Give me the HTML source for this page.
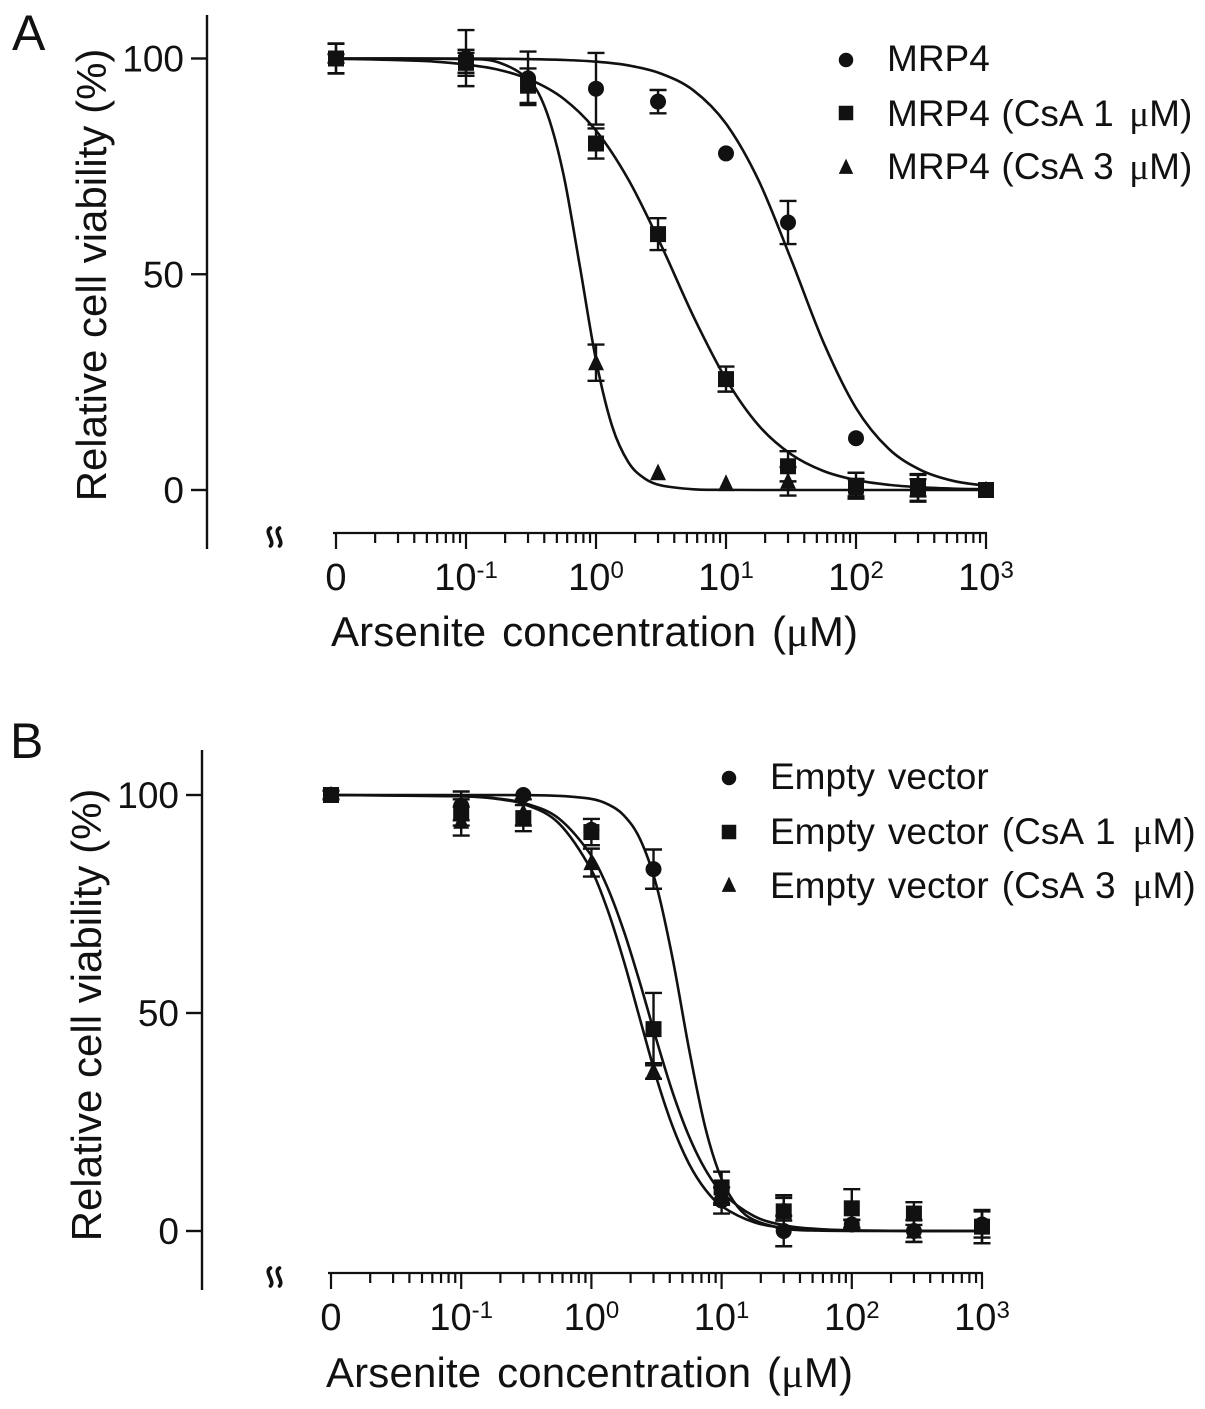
<!DOCTYPE html>
<html>
<head>
<meta charset="utf-8">
<title>Arsenite dose-response curves</title>
<style>
html,body{margin:0;padding:0;background:#fff;}
svg{display:block;}
text{font-family:"Liberation Sans",Arial,sans-serif;fill:#111;}
</style>
</head>
<body>
<svg id="figure" width="1205" height="1409" viewBox="0 0 1205 1409" xmlns="http://www.w3.org/2000/svg"></svg>
<script>
// Shared data
const concentrations = [0, 0.1, 0.3, 1, 3, 10, 30, 100, 300, 1000];
const yTickValues = [0, 50, 100];
const xTickLabels = [["0", ""], ["10", "-1"], ["10", "0"], ["10", "1"], ["10", "2"], ["10", "3"]];
const yAxisTitle = "Relative cell viability (%)";
const xAxisTitle = "Arsenite concentration (\u03bcM)";

// Panel A measurements
const aCircleValues = [100, 100.1, 95.4, 93, 90, 78, 62, 12, 0.5, 0];
const aCircleErrors = [3.5, 6.5, 6.2, 8.3, 2.7, 0, 5, 0, 3.2, 0];
const aSquareValues = [100, 99, 93.7, 80.3, 59.3, 25.7, 5.5, 1, 0.5, 0];
const aSquareErrors = [3.4, 3, 4, 3.5, 3.7, 2.9, 3.5, 3, 3, 0];
const aTriangleValues = [100, 99, 95.2, 29.5, 4, 1.5, 2, 0.5, 0.5, 0];
const aTriangleErrors = [1, 2.3, 0, 4.2, 0, 0, 3.3, 2, 2, 0];

// Panel A fitted curves (log10 concentration, viability)
const aCircleCurveLog = [-2, -1, -0.5, -0.25, 0, 0.25, 0.5, 0.75, 1, 1.25, 1.5, 1.75, 2, 2.25, 2.5, 2.75, 3];
const aCircleCurveVal = [100, 100, 99.85, 99.67, 99.27, 98.39, 96.5, 92.6, 84.9, 71.8, 53.5, 34.2, 19, 9.6, 4.6, 2.1, 0.97];
const aSquareCurveLog = [-2, -1.75, -1.5, -1.25, -1, -0.75, -0.5, -0.25, 0, 0.25, 0.5, 0.75, 1, 1.25, 1.5, 1.75, 2, 2.25, 2.5, 2.75, 3];
const aSquareCurveVal = [99.9, 99.8, 99.6, 99.3, 98.6, 97.4, 95, 90.7, 83.3, 71.9, 56.8, 40.2, 25.7, 15, 8.3, 4.4, 2.3, 1.2, 0.62, 0.32, 0.17];
const aTriangleCurveLog = [-2, -1, -0.75, -0.5, -0.375, -0.25, -0.125, 0, 0.125, 0.25, 0.375, 0.5, 0.75, 1, 1.5, 2, 3];
const aTriangleCurveVal = [100, 99.85, 99.1, 94.5, 87.2, 73.1, 52, 30.1, 14.7, 6.4, 2.65, 1.07, 0.17, 0.03, 0, 0, 0];

// Panel B measurements
const bCircleValues = [100, 97.5, 100, 92, 83, 7, 0, 1.5, 0, 1.5];
const bCircleErrors = [1, 3.3, 0, 0, 4.5, 3, 3.5, 1, 2.5, 3];
const bSquareValues = [100, 96, 94.7, 91.5, 46.3, 10, 4.5, 5.2, 4, 1];
const bSquareErrors = [1, 3, 3, 3, 8.3, 3.6, 3.7, 4.4, 2.6, 3.8];
const bTriangleValues = [100, 94, 96, 84.5, 36.7, 8, 5, 1.6, 0, 1];
const bTriangleErrors = [1, 3.3, 3, 3.2, 1.8, 2, 2.6, 1, 2.5, 3.8];

// Panel B fitted curves
const bCircleCurveLog = [-2, -1, -0.5, -0.25, 0, 0.125, 0.25, 0.375, 0.5, 0.625, 0.75, 0.875, 1, 1.125, 1.25, 1.5, 1.75, 2, 3];
const bCircleCurveVal = [100, 100, 99.97, 99.8, 99.1, 97.9, 95.3, 89.8, 79.2, 62.3, 41.7, 23.7, 11.9, 5.5, 2.5, 0.48, 0.09, 0.02, 0];
const bSquareCurveLog = [-2, -1, -0.75, -0.5, -0.25, 0, 0.125, 0.25, 0.375, 0.5, 0.625, 0.75, 0.875, 1, 1.25, 1.5, 1.75, 2, 2.5, 3];
const bSquareCurveVal = [100, 99.7, 99.3, 98, 94.6, 86.1, 78.7, 68.7, 56.7, 43.8, 31.7, 21.7, 14.1, 8.9, 3.4, 1.2, 0.44, 0.16, 0.02, 0];
const bTriangleCurveLog = [-2, -1, -0.75, -0.5, -0.25, 0, 0.125, 0.25, 0.375, 0.5, 0.625, 0.75, 0.875, 1, 1.25, 1.5, 1.75, 2, 2.5, 3];
const bTriangleCurveVal = [100, 99.7, 99.2, 97.7, 93.5, 82.8, 73.6, 61.8, 48.4, 35.1, 23.9, 15.4, 9.5, 5.7, 2, 0.67, 0.23, 0.08, 0, 0];

// Legend labels
const aLegendLabels = ["MRP4", "MRP4 (CsA 1 \u03bcM)", "MRP4 (CsA 3 \u03bcM)"];
const bLegendLabels = ["Empty vector", "Empty vector (CsA 1 \u03bcM)", "Empty vector (CsA 3 \u03bcM)"];

const svg = document.getElementById('figure');
const NS = 'http://www.w3.org/2000/svg';
const INK = '#111';

function make(tag, attrs, parent, text) {
  const el = document.createElementNS(NS, tag);
  for (const k in attrs) el.setAttribute(k, attrs[k]);
  if (text !== undefined) el.textContent = text;
  parent.appendChild(el);
  return el;
}

function fillLabel(el, str, muShift) {
  const parts = str.split('\u03bc');
  el.appendChild(document.createTextNode(parts[0]));
  if (parts.length > 1) {
    const mu = make('tspan', {'font-family': '"Liberation Serif", serif', dx: muShift}, el, '\u03bc');
    
    
    el.appendChild(document.createTextNode(parts[1]));
  }
}

function drawMarker(shape, cx, cy, size, parent, name) {
  let el;
  if (shape === 'circle') {
    el = make('circle', {cx: cx, cy: cy, r: size / 2, fill: INK}, parent);
  } else if (shape === 'square') {
    el = make('rect', {x: cx - size / 2, y: cy - size / 2, width: size, height: size, fill: INK}, parent);
  } else {
    const h = size * 1.05;
    el = make('polygon', {points: (cx) + ',' + (cy - h * 0.55) + ' ' + (cx + size / 2) + ',' + (cy + h * 0.45) + ' ' + (cx - size / 2) + ',' + (cy + h * 0.45), fill: INK}, parent);
  }
  
  
  return el;
}

function smoothPath(xs, ys) {
  let d = 'M' + xs[0].toFixed(2) + ' ' + ys[0].toFixed(2);
  const n = xs.length;
  const slope = [];
  for (let i = 0; i < n; i++) {
    const a = Math.max(0, i - 1), b = Math.min(n - 1, i + 1);
    slope.push((ys[b] - ys[a]) / (xs[b] - xs[a]));
  }
  for (let i = 0; i < n - 1; i++) {
    const h = xs[i + 1] - xs[i];
    d += 'C' + (xs[i] + h / 3).toFixed(2) + ' ' + (ys[i] + slope[i] * h / 3).toFixed(2) + ' ' +
      (xs[i + 1] - h / 3).toFixed(2) + ' ' + (ys[i + 1] - slope[i + 1] * h / 3).toFixed(2) + ' ' +
      xs[i + 1].toFixed(2) + ' ' + ys[i + 1].toFixed(2);
  }
  return d;
}

function drawPanel(p) {
  const g = make('g', {}, svg);
  
  

  const xLog = function (l) { return p.x0 + (l + 2) * p.decade; };
  const xConc = function (c) { return c === 0 ? p.x0 : xLog(Math.log10(c)); };
  const yVal = function (v) { return p.y0 - v * p.unit; };

  const letter = make('text', {x: p.letterX, y: p.letterY, 'font-size': 50}, g, p.id.toUpperCase());
  
  

  // y axis
  const yAxis = make('g', {stroke: INK, 'stroke-width': 2.4, fill: 'none'}, g);
  
  
  make('line', {x1: p.yAxisX, x2: p.yAxisX, y1: p.yTop, y2: p.yBottom}, yAxis);
  yTickValues.forEach(function (v) {
    const t = make('line', {x1: p.yAxisX - 16, x2: p.yAxisX, y1: yVal(v), y2: yVal(v)}, yAxis);
    
    
    const lab = make('text', {x: p.yAxisX - 23, y: yVal(v) + 13, 'font-size': 37, 'text-anchor': 'end', stroke: 'none'}, g, String(v));
    
    
  });
  const yTitle = make('text', {transform: 'translate(' + p.yTitleX + ' ' + p.yTitleY + ') rotate(-90)', 'font-size': 42, 'text-anchor': 'middle'}, g, yAxisTitle);
  
  

  // x axis
  const xAxis = make('g', {stroke: INK, 'stroke-width': 2.2, fill: 'none'}, g);
  
  
  make('line', {x1: xLog(-2) - 3, x2: xLog(3) + 1, y1: p.xAxisY, y2: p.xAxisY}, xAxis);
  for (let d = -2; d <= 3; d++) {
    const t = make('line', {x1: xLog(d), x2: xLog(d), y1: p.xAxisY, y2: p.xAxisY + 16}, xAxis);
    
    
    if (d < 3) {
      for (let m = 2; m <= 9; m++) {
        const mx = xLog(d + Math.log10(m));
        const mt = make('line', {x1: mx, x2: mx, y1: p.xAxisY, y2: p.xAxisY + 10}, xAxis);
        
        
      }
    }
    const parts = xTickLabels[d + 2];
    const cx = xLog(d);
    const lab = make('text', {x: cx, y: p.xLabelY, 'font-size': 38, 'text-anchor': 'middle', stroke: 'none'}, g);
    
    
    const base = make('tspan', {}, lab, parts[0]);
    
    
    if (parts[1]) {
      const sup = make('tspan', {dy: -12, 'font-size': 24}, lab, parts[1]);
      
      
    }
  }
  const xTitle = make('text', {x: p.xTitleX, y: p.xTitleY, 'font-size': 42, 'word-spacing': 4, textLength: 527, lengthAdjust: 'spacing'}, g);
  fillLabel(xTitle, xAxisTitle, 0);
  
  

  // axis break symbol
  const brk = make('g', {stroke: INK, 'stroke-width': 3.6, fill: 'none', 'stroke-linecap': 'round'}, g);
  
  
  [-4.5, 4.5].forEach(function (off) {
    const bx = p.breakX + off, by = p.xAxisY + 4;
    make('path', {d: 'M' + (bx + 1) + ' ' + (by - 9) + 'C' + (bx - 6) + ' ' + (by - 5) + ' ' + (bx + 6) + ' ' + (by + 4) + ' ' + (bx + 1) + ' ' + (by + 9)}, brk);
  });

  // series
  p.series.forEach(function (s) {
    const sg = make('g', {}, g);
    
    
    const curve = make('path', {
      d: smoothPath(s.curveLog.map(xLog), s.curveVal.map(yVal)),
      fill: 'none', stroke: INK, 'stroke-width': 2.6
    }, sg);
    
    
    s.values.forEach(function (v, i) {
      const cx = xConc(concentrations[i]);
      const e = s.errors[i];
      if (e > 0) {
        const eg = make('g', {stroke: INK, 'stroke-width': 2.4}, sg);
        
        
        make('line', {x1: cx, x2: cx, y1: yVal(v + e), y2: yVal(v - e)}, eg);
        make('line', {x1: cx - 8.5, x2: cx + 8.5, y1: yVal(v + e), y2: yVal(v + e)}, eg);
        make('line', {x1: cx - 8.5, x2: cx + 8.5, y1: yVal(v - e), y2: yVal(v - e)}, eg);
      }
      drawMarker(s.shape, cx, yVal(v), 16, sg, 'point-' + s.shape);
    });
  });

  // legend
  const lg = make('g', {}, g);
  
  
  p.series.forEach(function (s, i) {
    const entry = make('g', {}, lg);
    
    
    drawMarker(s.shape, p.legendMarkerX, p.legendMarkerY[i], 14.5, entry, 'legend-marker');
    const t = make('text', {x: p.legendTextX, y: p.legendBaseY[i], 'font-size': 37, 'word-spacing': p.legendWordSpacing}, entry);
    fillLabel(t, p.legendLabels[i], 4);
    
    
  });
}

drawPanel({
  id: 'a', x0: 336, decade: 130, y0: 490, unit: 4.315,
  yAxisX: 207, yTop: 15, yBottom: 549, xAxisY: 533, xLabelY: 590,
  yTitleX: 106, yTitleY: 275, xTitleX: 331, xTitleY: 646,
  letterX: 12, letterY: 50, breakX: 274,
  legendMarkerX: 846, legendTextX: 887, legendMarkerY: [60, 113, 167], legendBaseY: [71, 126, 179],
  legendWordSpacing: 1.3, legendLabels: aLegendLabels,
  series: [
    {name: 'mrp4', shape: 'circle', values: aCircleValues, errors: aCircleErrors, curveLog: aCircleCurveLog, curveVal: aCircleCurveVal},
    {name: 'mrp4-csa-1', shape: 'square', values: aSquareValues, errors: aSquareErrors, curveLog: aSquareCurveLog, curveVal: aSquareCurveVal},
    {name: 'mrp4-csa-3', shape: 'triangle', values: aTriangleValues, errors: aTriangleErrors, curveLog: aTriangleCurveLog, curveVal: aTriangleCurveVal}
  ]
});

drawPanel({
  id: 'b', x0: 331, decade: 130.2, y0: 1231, unit: 4.36,
  yAxisX: 202, yTop: 750, yBottom: 1290, xAxisY: 1273, xLabelY: 1330,
  yTitleX: 101, yTitleY: 1015, xTitleX: 326, xTitleY: 1387,
  letterX: 10, letterY: 758, breakX: 274,
  legendMarkerX: 729, legendTextX: 770, legendMarkerY: [778, 832, 885], legendBaseY: [789, 844, 898],
  legendWordSpacing: 2.8, legendLabels: bLegendLabels,
  series: [
    {name: 'empty-vector', shape: 'circle', values: bCircleValues, errors: bCircleErrors, curveLog: bCircleCurveLog, curveVal: bCircleCurveVal},
    {name: 'empty-vector-csa-1', shape: 'square', values: bSquareValues, errors: bSquareErrors, curveLog: bSquareCurveLog, curveVal: bSquareCurveVal},
    {name: 'empty-vector-csa-3', shape: 'triangle', values: bTriangleValues, errors: bTriangleErrors, curveLog: bTriangleCurveLog, curveVal: bTriangleCurveVal}
  ]
});
</script>
</body>
</html>
